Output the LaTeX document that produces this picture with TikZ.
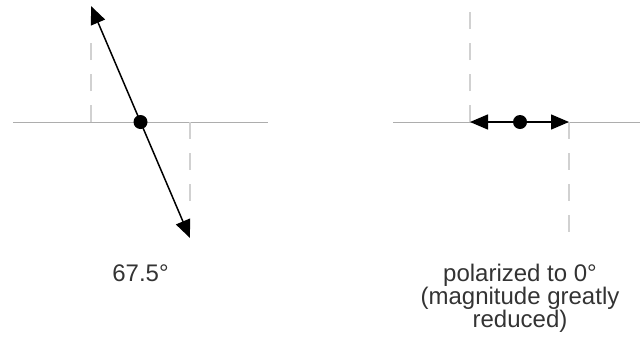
\documentclass[tikz,border=0pt]{standalone}
\usepackage{fontspec}
\setmainfont{Liberation Sans}
\usetikzlibrary{arrows.meta}
\tikzset{
  axisline/.style={draw=black!32, line width=1pt},
  projline/.style={draw=black!18, line width=1.6pt, dash pattern=on 17pt off 14pt},
  vecline/.style={draw=black, line width=1.5pt, {Triangle[length=18pt,width=15pt]}-{Triangle[length=18pt,width=15pt]}},
  dot/.style={circle, fill=black, inner sep=0pt, minimum size=14pt},
  lbl/.style={font=\fontsize{24}{22.7}\selectfont, text=black!80, inner sep=0pt, align=center}
}
\begin{document}
\begin{tikzpicture}[x=1pt,y=-1pt]
\useasboundingbox (0,0) rectangle (640,338);
% left diagram
\coordinate (la) at (13,122);
\coordinate (lb) at (268,122);
\coordinate (lc) at (140.5,122);
\coordinate (lpa) at (91,122);
\coordinate (lpatop) at (91,42);
\coordinate (lpb) at (190,122);
\coordinate (lpbbot) at (190,202);
\coordinate (lt1) at (91,6);
\coordinate (lt2) at (190,238);
\draw[axisline] (la) -- (lb);
\draw[projline] (lpa) -- (lpatop);
\draw[projline] (lpb) -- (lpbbot);
\draw[vecline] (lt2) -- (lt1);
\node[dot] (ldot) at (lc) {};
\node[lbl, anchor=base] (llbl) at (140.5,281) {67.5°};
% right diagram
\coordinate (ra) at (393,122);
\coordinate (rb) at (640,122);
\coordinate (rc) at (520,122);
\coordinate (rpa) at (470,122);
\coordinate (rpatop) at (470,3);
\coordinate (rpb) at (569,122);
\coordinate (rpbbot) at (569,240);
\draw[axisline] (ra) -- (rb);
\draw[projline] (rpa) -- (rpatop);
\draw[projline] (rpb) -- (rpbbot);
\draw[vecline] (rpa) -- (rpb);
\node[dot] (rdot) at (rc) {};
\node[lbl, anchor=base] (rlbl) at (520,327) {polarized to 0°\\(magnitude greatly\\reduced)};
\end{tikzpicture}
\end{document}
